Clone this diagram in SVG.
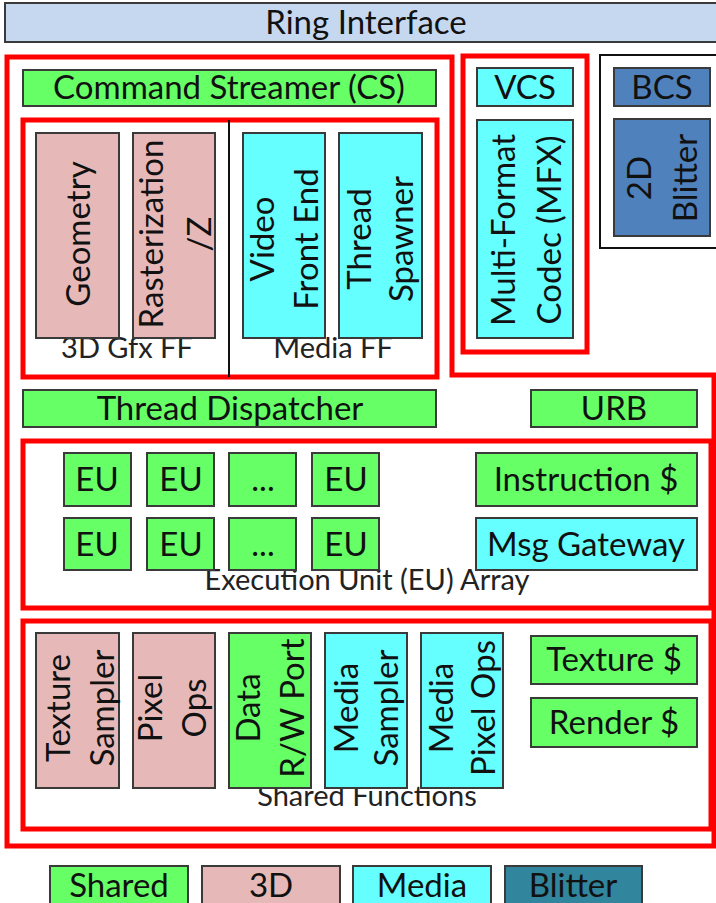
<svg xmlns="http://www.w3.org/2000/svg" width="716" height="903" viewBox="0 0 716 903">
<style>
.bx{stroke:#3a3a3a;stroke-width:2}
.g{fill:#66ff66}.p{fill:#e6b9b8}.c{fill:#66ffff}.b{fill:#4f81bd}.bl{fill:#31859c}.ri{fill:#c6d8f0}
.red{fill:none;stroke:#ff0000;stroke-width:5}
.t{font-family:Lato,"Open Sans",sans-serif;font-size:33px;fill:#111;text-anchor:middle}
.v{font-family:Lato,"Open Sans",sans-serif;font-size:33px;fill:#111;text-anchor:middle}
.lb{font-family:Lato,"Open Sans",sans-serif;font-size:29px;fill:#222;text-anchor:middle}
</style>
<rect width="716" height="903" fill="#ffffff"/>
<g id="containers">
<polygon class="red" points="7,57 452,57 452,375 714,375 714,846 7,846"/>
<rect class="red" x="463" y="56" width="124" height="296"/>
<rect x="600" y="55" width="130" height="193" fill="none" stroke="#111" stroke-width="2"/>
<rect class="red" x="23" y="120" width="414" height="257"/>
<line x1="229" y1="120" x2="229" y2="377" stroke="#111" stroke-width="2"/>
<rect class="red" x="23" y="441" width="688" height="167"/>
<rect class="red" x="23" y="621" width="688" height="208"/>
</g>
<g id="ring"><rect class="bx ri" x="5" y="3" width="720" height="39"/><text class="t" x="366" y="34">Ring Interface</text></g>
<g id="cs"><rect class="bx g" x="23" y="70" width="413" height="36"/><text class="t" x="229" y="99">Command Streamer (CS)</text></g>
<g id="vcs"><rect class="bx c" x="477" y="68" width="96" height="38"/><text class="t" x="525" y="99">VCS</text></g>
<g id="bcs"><rect class="bx b" x="614" y="68" width="96" height="38"/><text class="t" x="662" y="99">BCS</text></g>
<g id="mfx"><rect class="bx c" x="477" y="120" width="96" height="218"/><text class="v" transform="translate(515,230) rotate(-90)"><tspan x="0" y="0">Multi-Format</tspan><tspan x="0" y="46">Codec (MFX)</tspan></text></g>
<g id="blitter2d"><rect class="bx b" x="614" y="119" width="96" height="117"/><text class="v" transform="translate(651,178) rotate(-90)"><tspan x="0" y="0">2D</tspan><tspan x="0" y="46">Blitter</tspan></text></g>
<g id="ff-labels"><text class="lb" x="127" y="358">3D Gfx FF</text><text class="lb" x="333" y="358">Media FF</text></g>
<g id="geometry"><rect class="bx p" x="36" y="133" width="83" height="205"/><text class="v" transform="translate(90,234) rotate(-90)">Geometry</text></g>
<g id="raster"><rect class="bx p" x="133" y="133" width="82" height="205"/><text class="v" transform="translate(163,234) rotate(-90)"><tspan x="0" y="0">Rasterization</tspan><tspan x="0" y="48">/Z</tspan></text></g>
<g id="vfe"><rect class="bx c" x="243" y="133" width="82" height="205"/><text class="v" transform="translate(274,239) rotate(-90)"><tspan x="0" y="0">Video</tspan><tspan x="0" y="44">Front End</tspan></text></g>
<g id="spawner"><rect class="bx c" x="339" y="133" width="83" height="205"/><text class="v" transform="translate(371,239) rotate(-90)"><tspan x="0" y="0">Thread</tspan><tspan x="0" y="42">Spawner</tspan></text></g>
<g id="td"><rect class="bx g" x="23" y="390" width="413" height="37"/><text class="t" x="230" y="420">Thread Dispatcher</text></g>
<g id="urb"><rect class="bx g" x="531" y="390" width="166" height="37"/><text class="t" x="614" y="420">URB</text></g>
<g id="eu-label"><text class="lb" x="367" y="590">Execution Unit (EU) Array</text></g>
<g id="eu1"><rect class="bx g" x="64" y="453" width="67" height="53"/><text class="t" x="97" y="491">EU</text></g>
<g id="eu2"><rect class="bx g" x="147" y="453" width="67" height="53"/><text class="t" x="181" y="491">EU</text></g>
<g id="eu3"><rect class="bx g" x="229" y="453" width="67" height="53"/><text class="t" x="263" y="491">...</text></g>
<g id="eu4"><rect class="bx g" x="312" y="453" width="67" height="53"/><text class="t" x="346" y="491">EU</text></g>
<g id="eu5"><rect class="bx g" x="64" y="518" width="67" height="52"/><text class="t" x="97" y="556">EU</text></g>
<g id="eu6"><rect class="bx g" x="147" y="518" width="67" height="52"/><text class="t" x="181" y="556">EU</text></g>
<g id="eu7"><rect class="bx g" x="229" y="518" width="67" height="52"/><text class="t" x="263" y="556">...</text></g>
<g id="eu8"><rect class="bx g" x="312" y="518" width="67" height="52"/><text class="t" x="346" y="556">EU</text></g>
<g id="icache"><rect class="bx g" x="476" y="453" width="221" height="53"/><text class="t" x="586" y="491">Instruction $</text></g>
<g id="msg"><rect class="bx c" x="476" y="518" width="221" height="52"/><text class="t" x="586" y="556">Msg Gateway</text></g>
<g id="sf-label"><text class="lb" x="367" y="806">Shared Functions</text></g>
<g id="tex-sampler"><rect class="bx p" x="36" y="633" width="83" height="155"/><text class="v" transform="translate(70,708) rotate(-90)"><tspan x="0" y="0">Texture</tspan><tspan x="0" y="44">Sampler</tspan></text></g>
<g id="pixel-ops"><rect class="bx p" x="133" y="633" width="82" height="155"/><text class="v" transform="translate(162,708) rotate(-90)"><tspan x="0" y="0">Pixel</tspan><tspan x="0" y="44">Ops</tspan></text></g>
<g id="data-port"><rect class="bx g" x="229" y="633" width="82" height="155"/><text class="v" transform="translate(260,708) rotate(-90)"><tspan x="0" y="0">Data</tspan><tspan x="0" y="44">R/W Port</tspan></text></g>
<g id="media-sampler"><rect class="bx c" x="325" y="633" width="82" height="155"/><text class="v" transform="translate(358,708) rotate(-90)"><tspan x="0" y="0">Media</tspan><tspan x="0" y="40">Sampler</tspan></text></g>
<g id="media-pixel"><rect class="bx c" x="421" y="633" width="82" height="155"/><text class="v" transform="translate(453,708) rotate(-90)"><tspan x="0" y="0">Media</tspan><tspan x="0" y="42">Pixel Ops</tspan></text></g>
<g id="tex-cache"><rect class="bx g" x="531" y="636" width="166" height="48"/><text class="t" x="614" y="671">Texture $</text></g>
<g id="render-cache"><rect class="bx g" x="531" y="698" width="166" height="49"/><text class="t" x="614" y="734">Render $</text></g>
<g id="legend">
<rect class="bx g" x="50" y="866" width="138" height="40"/><text class="t" x="119" y="897">Shared</text>
<rect class="bx p" x="202" y="866" width="138" height="40"/><text class="t" x="271" y="897">3D</text>
<rect class="bx c" x="353" y="866" width="138" height="40"/><text class="t" x="422" y="897">Media</text>
<rect class="bx bl" x="505" y="866" width="137" height="40"/><text class="t" x="573" y="897">Blitter</text>
</g>
<g id="connectors"></g>
</svg>
